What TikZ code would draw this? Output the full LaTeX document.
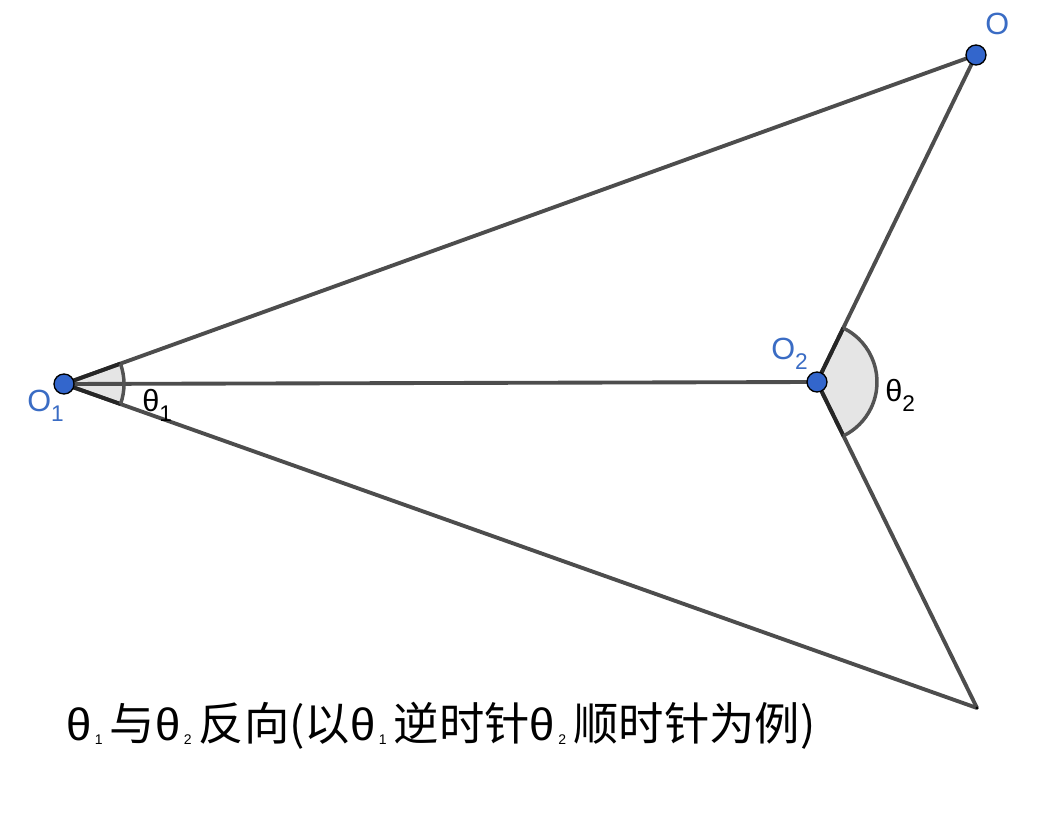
\documentclass[tikz,border=0pt]{standalone}
\usepackage{fontspec}
\setmainfont{Liberation Sans}
\newfontfamily\cjk{Noto Sans CJK SC}
\usetikzlibrary{calc,positioning}
\definecolor{ptblue}{RGB}{51,102,204}
\definecolor{lblblue}{RGB}{58,108,196}
\definecolor{segcol}{RGB}{77,77,77}
\tikzset{
  seg/.style={segcol, line width=2.9pt},
  edge/.style={black!85, line width=2.9pt},
  rim/.style={gray!65!black, line width=2.6pt},
  pt/.style={circle, fill=ptblue, draw=black, line width=1pt, inner sep=0pt, minimum size=15pt},
  lbl/.style={text=lblblue, font=\fontsize{23}{26}\selectfont, inner sep=0pt},
  ang/.style={font=\fontsize{23}{26}\selectfont, inner sep=0pt},
}
\newcommand{\sbs}[1]{\raisebox{-7.5pt}{\fontsize{17}{20}\selectfont #1}}
\newcommand{\tsb}[1]{\kern2.5pt\raisebox{-3pt}{\fontsize{10.5}{12}\selectfont #1}\kern5.5pt}
\begin{document}
\begin{tikzpicture}[x=0.75pt,y=0.75pt]
    \useasboundingbox (0,0) rectangle (1037,835);
    %points
    \coordinate (O1) at (64,451);
    \coordinate (O2) at (817,453);
    \coordinate (O) at (976,780);
    \coordinate (P) at (977,127);
    %sectors
    \fill[gray!20] (O1) -- ++(19.84:45pt) arc[start angle=19.84, end angle=-19.54, radius=45pt] -- cycle;
    \fill[gray!20] (O2) -- ++(64.07:45pt) arc[start angle=64.07, end angle=-63.86, radius=45pt] -- cycle;
    %lines
    \draw[seg] (O1) -- (O);
    \draw[seg] (O1) -- (O2);
    \draw[seg] (O1) -- (P);
    \draw[seg] (O2) -- (O);
    \draw[seg] (O2) -- (P);
    %sector edges
    \draw[edge] ($(O1)!45pt!(O)$) -- (O1) -- ($(O1)!45pt!(P)$);
    \draw[edge] ($(O2)!45pt!(O)$) -- (O2) -- ($(O2)!45pt!(P)$);
    \draw[rim] (O1) ++(19.84:45pt) arc[start angle=19.84, end angle=-19.54, radius=45pt];
    \draw[rim] (O2) ++(64.07:45pt) arc[start angle=64.07, end angle=-63.86, radius=45pt];
    \fill[black] (P) circle (1.3pt);
    %dots
    \node[pt] (o1) at (O1) {};
    \node[pt] (o2) at (O2) {};
    \node[pt] (o) at (O) {};
    %labels
    \node[lbl, anchor=base west] (lo1) at (27,423) {O\sbs{1}};
    \node[lbl, anchor=base west] (lo2) at (771,475) {O\sbs{2}};
    \node[lbl, anchor=base west] (lo) at (985,800) {O};
    \node[ang, anchor=base west] (t1) at (142,423) {θ\sbs{1}};
    \node[ang, anchor=base west] (t2) at (885,433) {θ\sbs{2}};
    %caption
    \node[anchor=base west, inner sep=0pt, font=\fontsize{34}{40}\selectfont] (cap) at (66,95)
      {θ\tsb{1}{\cjk 与}θ\tsb{2}{\cjk 反向(以}θ\tsb{1}{\cjk 逆时针}θ\tsb{2}{\cjk 顺时针为例)}};
\end{tikzpicture}
\end{document}
